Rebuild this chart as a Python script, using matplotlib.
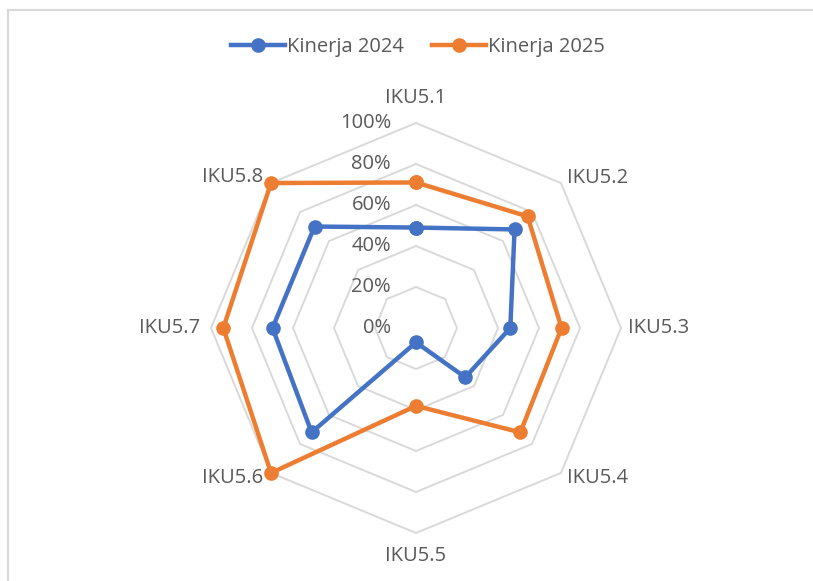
import numpy as np
import matplotlib.pyplot as plt
from matplotlib.patches import Rectangle

# data
categories = ['IKU5.1', 'IKU5.2', 'IKU5.3', 'IKU5.4', 'IKU5.5', 'IKU5.6', 'IKU5.7', 'IKU5.8']
kinerja_2024 = [0.49, 0.68, 0.46, 0.34, 0.07, 0.72, 0.70, 0.70]
kinerja_2025 = [0.71, 0.77, 0.71, 0.72, 0.38, 1.00, 0.94, 1.00]
ticks = [0, 0.2, 0.4, 0.6, 0.8, 1.0]
tick_labels = ['0%', '20%', '40%', '60%', '80%', '100%']

plt.rcParams['font.family'] = ['Open Sans', 'DejaVu Sans']
txt_col = '#595959'
grid_col = '#D9D9D9'
fs = 14.5

W, H = 813, 581
cx, cy, R = 416, 328, 205
fig = plt.figure(figsize=(W / 100, H / 100), dpi=100)
ax = fig.add_axes([(cx - R) / W, (H - cy - R) / H, 2 * R / W, 2 * R / H], projection='polar')
ax.set_theta_offset(np.pi / 2)
ax.set_theta_direction(-1)
ax.set_ylim(0, 1)
ax.grid(False)
ax.set_xticks([])
ax.set_yticks([])
ax.spines['polar'].set_visible(False)
ax.patch.set_alpha(0)

n = len(categories)
angles = np.arange(n) * 2 * np.pi / n
closed = np.append(angles, angles[0])

# octagon grid
for t in ticks[1:]:
    ax.plot(closed, [t] * (n + 1), color=grid_col, lw=1.4, zorder=1, clip_on=False)

for t, lab in zip(ticks, tick_labels):
    ax.annotate(lab, (0, t), xytext=(-25, 0), textcoords='offset pixels',
                ha='right', va='center', fontsize=fs, color=txt_col)

# category labels
offsets = [(0, 25, 'center'), (6, 5, 'left'), (7, 0, 'left'), (6, -5, 'left'),
           (0, -23, 'center'), (-8, -5, 'right'), (-11, 0, 'right'), (-8, 6, 'right')]
for a, lab, (dx, dy, ha) in zip(angles, categories, offsets):
    ax.annotate(lab, (a, 1.0), xytext=(dx, dy), textcoords='offset pixels',
                ha=ha, va='center', fontsize=fs, color=txt_col, annotation_clip=False)

ax.plot(closed, kinerja_2024 + kinerja_2024[:1], color='#4472C4', lw=3.2, marker='o',
        ms=9.5, label='Kinerja 2024', zorder=3, clip_on=False)
ax.plot(closed, kinerja_2025 + kinerja_2025[:1], color='#ED7D31', lw=3.2, marker='o',
        ms=9.5, label='Kinerja 2025', zorder=3, clip_on=False)

leg = fig.legend(loc='center', bbox_to_anchor=(418 / W, 1 - 47 / H), ncol=2, frameon=False,
                 fontsize=fs, handlelength=2.7, handletextpad=0.1, columnspacing=1.4)
for t in leg.get_texts():
    t.set_color(txt_col)

fig.patches.append(Rectangle((8 / W, -0.1), 1.2, 1 - 10 / H + 0.1, transform=fig.transFigure,
                             fill=False, edgecolor='#D9D9D9', lw=1.5))

fig.savefig('out.png', dpi=100)
